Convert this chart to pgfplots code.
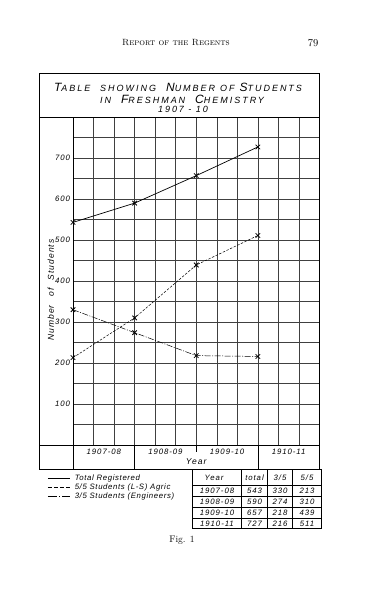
\documentclass[border=0pt]{standalone}
\usepackage{fontspec}
\usepackage{pgfplots}
\pgfplotsset{compat=1.18}
\newfontfamily\hand[LetterSpace=12]{Liberation Sans}
\newfontfamily\handl[LetterSpace=8]{Liberation Sans}
\newfontfamily\handt[LetterSpace=22]{Liberation Sans}
\newcommand\hsc[2]{{\fontsize{12}{13}\selectfont #1}{\fontsize{9}{10}\selectfont #2}}
\begin{document}
\begin{tikzpicture}
\useasboundingbox (0pt,0pt) rectangle (390pt,-600pt);
\fill[white] (0pt,0pt) rectangle (390pt,-600pt);
\begin{scope}[x=1pt,y=-1pt]
% page header
\node at (176,43) {\fontsize{9}{10}\selectfont\textsc{Report of the Regents}};
\node at (313,43) {\fontsize{10.5}{12}\selectfont 79};
% frame
\draw[line width=0.8pt] (39.5,73) rectangle (319.5,469.5);
\draw[line width=0.8pt] (39.5,117) -- (319.5,117);
\draw[line width=0.8pt] (39.5,445) -- (73,445);
\draw[line width=0.7pt] (73,445) -- (73,469.5);
\draw[line width=0.7pt] (134.6,445) -- (134.6,469.5);
\draw[line width=0.7pt] (196.2,445) -- (196.2,452);
\draw[line width=0.7pt] (257.9,445) -- (257.9,469.5);
% title
\node at (178,87) {\handt\itshape\hsc{T}{ABLE}\ \ \hsc{}{SHOWING}\ \ \hsc{N}{UMBER} \hsc{}{OF} \hsc{S}{TUDENTS}};
\node at (182,99) {\handt\itshape\hsc{}{IN}\ \ \hsc{F}{RESHMAN}\ \ \hsc{C}{HEMISTRY}};
\node at (183,109.5) {\handt\itshape\fontsize{9}{10}\selectfont 1907 - 10};
% data table
\draw[line width=0.8pt] (192,469.5) rectangle (321.5,528.5);
\foreach \yy in {485,496.7,507.7,518.3} \draw[line width=0.6pt] (192,\yy) -- (321.5,\yy);
\foreach \xx in {241.7,267.3,292.7} \draw[line width=0.6pt] (\xx,469.5) -- (\xx,528.5);
\begin{scope}[every node/.style={font=\hand\itshape\fontsize{7.8}{8}\selectfont}]
\node at (214,478) {Year};
\node at (254.5,478) {total};
\node at (280,478) {3/5};
\node at (307,478) {5/5};
\node at (217,491) {1907-08}; \node at (254.5,491) {543}; \node at (280,491) {330}; \node at (307,491) {213};
\node at (217,502) {1908-09}; \node at (254.5,502) {590}; \node at (280,502) {274}; \node at (307,502) {310};
\node at (217,513) {1909-10}; \node at (254.5,513) {657}; \node at (280,513) {218}; \node at (307,513) {439};
\node at (217,523.5) {1910-11}; \node at (254.5,523.5) {727}; \node at (280,523.5) {216}; \node at (307,523.5) {511};
\end{scope}
\node at (182,540) {\fontsize{9.5}{10}\selectfont Fig. 1};
\end{scope}
\begin{axis}[
  at={(73pt,-445pt)}, anchor=south west,
  width=246.5pt, height=328pt, scale only axis,
  xmin=0, xmax=12, ymin=0, ymax=800,
  clip=false,
  axis line style={line width=0.8pt},
  xtick={0,...,12}, xticklabels={},
  ytick={0,50,...,800},
  yticklabels={,,100,,200,,300,,400,,500,,600,,700,,},
  major tick length=0pt,
  grid=major,
  grid style={black!75, line width=0.5pt},
  extra x ticks={1.5,4.5,7.5,10.5},
  extra x tick labels={1907-08,1908-09,1909-10,1910-11},
  extra x tick style={grid=none, major tick length=0pt},
  ticklabel style={font=\hand\itshape\fontsize{7.8}{8}\selectfont},
  xticklabel style={yshift=-0.5pt},
  yticklabel style={xshift=0.5pt},
  xlabel={Year},
  every axis x label/.style={at={(axis description cs:0.5,-0.052)}, anchor=center, font=\hand\itshape\fontsize{8.5}{9}\selectfont},
  ylabel={Number\quad of\quad Students},
  every axis y label/.style={at={(axis description cs:-0.09,0.4726)}, rotate=90, anchor=center, font=\hand\itshape\fontsize{8.5}{9}\selectfont},
  legend style={at={(axis description cs:-0.104,-0.087)}, anchor=north west, draw=none, fill=none,
    font=\handl\itshape\fontsize{7.8}{8}\selectfont, inner sep=0pt, row sep=-1.5pt,
    column sep=3pt, nodes={inner sep=1.5pt}},
  legend cell align=left,
]
\addplot[black, line width=0.7pt, mark=x, mark size=3.2pt, mark options={solid, line width=0.8pt},
  legend image code/.code={\draw[black, line width=0.7pt] (0pt,0pt) -- (22pt,0pt);}]
  coordinates {(0,543) (3,590) (6,657) (9,727)};
\addlegendentry{Total Registered}
\addplot[black, line width=0.5pt, dash pattern=on 2.5pt off 1.5pt, mark=x, mark size=3.2pt, mark options={solid, line width=0.8pt},
  legend image code/.code={\draw[black, line width=0.5pt, dash pattern=on 4pt off 2pt] (0pt,0pt) -- (22pt,0pt);}]
  coordinates {(0,213) (3,310) (6,439) (9,511)};
\addlegendentry{5/5 Students (L-S) Agric}
\addplot[black, line width=0.5pt, dash pattern=on 6pt off 1.5pt on 1pt off 1.5pt, mark=x, mark size=3.2pt, mark options={solid, line width=0.8pt},
  legend image code/.code={\draw[black, line width=0.5pt, dash pattern=on 9pt off 2pt on 1.5pt off 2pt] (0pt,0pt) -- (22pt,0pt);}]
  coordinates {(0,330) (3,274) (6,218) (9,216)};
\addlegendentry{3/5 Students (Engineers)}
\end{axis}
\end{tikzpicture}
\end{document}
